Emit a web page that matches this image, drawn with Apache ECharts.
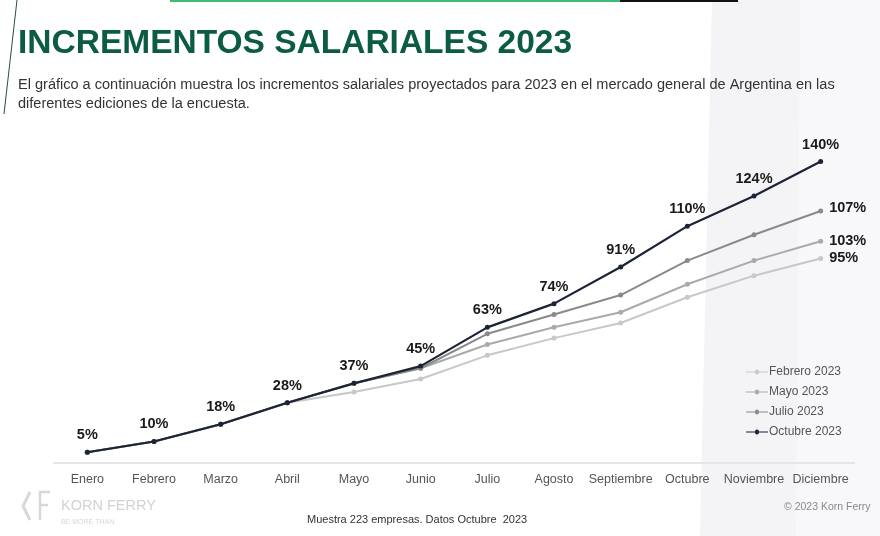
<!DOCTYPE html>
<html>
<head>
<meta charset="utf-8">
<script src="https://cdn.jsdelivr.net/npm/echarts@6/dist/echarts.min.js"></script>
<style>
html,body{margin:0;padding:0;background:#fff;}
#chart{width:880px;height:536px;}
</style>
</head>
<body>
<div id="chart"></div>
<script>
// ---- data ----
var months = ['Enero','Febrero','Marzo','Abril','Mayo','Junio','Julio','Agosto','Septiembre','Octubre','Noviembre','Diciembre'];
var seriesNames = ['Febrero 2023','Mayo 2023','Julio 2023','Octubre 2023'];
var febrero2023 = [5,10,18,28,33,39,50,58,65,77,87,95];
var mayo2023    = [5,10,18,28,37,44,55,63,70,83,94,103];
var julio2023   = [5,10,18,28,37,44,60,69,78,94,106,117];
var octubre2023 = [5,10,18,28,37,45,63,74,91,110,124,140];
var endLabels   = ['95%','103%','107%'];
var octubreLabels = ['5%','10%','18%','28%','37%','45%','63%','74%','91%','110%','124%','140%'];

var colors = ['#c8c8c8','#aaaaaa','#8a8a8a','#1b2335'];
var FONT = 'Liberation Sans, Arial, sans-serif';

var chart = echarts.init(document.getElementById('chart'));

function lineSeries(idx, data, labelFn, labelPos, labelOffset) {
  return {
    name: seriesNames[idx],
    type: 'line',
    data: data,
    z: 2 + idx,
    symbol: 'circle',
    symbolSize: 5,
    lineStyle: {color: colors[idx], width: idx === 3 ? 2.2 : 2},
    itemStyle: {color: colors[idx]},
    label: {
      show: true,
      position: labelPos,
      distance: 6,
      offset: labelOffset || [0,0],
      fontFamily: FONT,
      fontWeight: 'bold',
      fontSize: 14.5,
      color: '#1a1a1a',
      formatter: labelFn
    },
    emphasis: {disabled: true},
    animation: false
  };
}

var option = {
  backgroundColor: '#ffffff',
  animation: false,
  grid: {left: 54, right: 26, top: 140, bottom: 73},
  xAxis: {
    type: 'category',
    data: months,
    boundaryGap: true,
    axisLine: {lineStyle: {color: '#e6e6e6', width: 2}},
    axisTick: {show: false},
    axisLabel: {color: '#555555', fontFamily: FONT, fontSize: 12.5, margin: 10, interval: 0}
  },
  yAxis: {
    type: 'value', min: 0, max: 150,
    show: false
  },
  legend: {
    orient: 'vertical',
    left: 741, top: 361,
    itemWidth: 22, itemHeight: 10, itemGap: 8,
    data: seriesNames,
    textStyle: {color: '#555555', fontFamily: FONT, fontSize: 12, padding: [0,0,0,-4]},
    icon: 'path://M0,4.5L9,4.5A2,2 0 1 1 13,4.5L22,4.5L22,5.5L13,5.5A2,2 0 1 1 9,5.5L0,5.5Z'
  },
  graphic: [
    // background panels
    {type:'polygon', z:-10, shape:{points:[[712,0],[800,0],[800,536],[700,536]]}, style:{fill:'#f4f3f6'}},
    {type:'polygon', z:-10, shape:{points:[[800,0],[880,0],[880,536],[796,536]]}, style:{fill:'#f8f7f9'}},
    // top bars
    {type:'rect', shape:{x:170,y:0,width:450,height:2}, style:{fill:'#3dba73'}},
    {type:'rect', shape:{x:620,y:0,width:118,height:2}, style:{fill:'#111111'}},
    // left slanted line
    {type:'line', shape:{x1:17,y1:0,x2:4,y2:114}, style:{stroke:'#2b4d40', lineWidth:1}},
    // title
    {type:'text', left:18, top:27, style:{text:'INCREMENTOS SALARIALES 2023', fill:'#0c5c45', font:'bold 33.5px ' + FONT}},
    {type:'text', x:18, y:75, scaleX:0.95, style:{text:'El gráfico a continuación muestra los incrementos salariales proyectados para 2023 en el mercado general de Argentina en las\ndiferentes ediciones de la encuesta.', fill:'#333333', font:'15.3px ' + FONT, lineHeight:19}},
    // footer
    {type:'text', left:307, top:514, style:{text:'Muestra 223 empresas. Datos Octubre  2023', fill:'#333333', font:'11px ' + FONT}},
    {type:'text', left:784, top:502, style:{text:'© 2023 Korn Ferry', fill:'#8a8a8a', font:'10.5px ' + FONT}},
    {type:'text', left:61, top:498, style:{text:'KORN FERRY', fill:'#d2d2d2', font:'14.5px ' + FONT, letterSpacing:2.4}},
    {type:'text', left:61, top:519, style:{text:'BE MORE THAN', fill:'#d6d6d6', font:'7px ' + FONT}},
    {type:'polyline', shape:{points:[[30,492],[23,506],[30,520]]}, style:{stroke:'#d8d8d8', lineWidth:3, fill:null}},
    {type:'polyline', shape:{points:[[50,492],[40,492],[40,520]]}, style:{stroke:'#d8d8d8', lineWidth:2.5, fill:null}},
    {type:'line', shape:{x1:40,y1:505,x2:48,y2:505}, style:{stroke:'#d8d8d8', lineWidth:2.5}}
  ],
  series: [
    lineSeries(0, febrero2023, function(p){return p.dataIndex === 11 ? endLabels[0] : '';}, 'right', [0,0]),
    lineSeries(1, mayo2023, function(p){return p.dataIndex === 11 ? endLabels[1] : '';}, 'right', [0,0]),
    lineSeries(2, julio2023, function(p){return p.dataIndex === 11 ? endLabels[2] : '';}, 'right', [0,-3]),
    lineSeries(3, octubre2023, function(p){return octubreLabels[p.dataIndex];}, 'top', [0,-1])
  ]
};
chart.setOption(option);
</script>
</body>
</html>
